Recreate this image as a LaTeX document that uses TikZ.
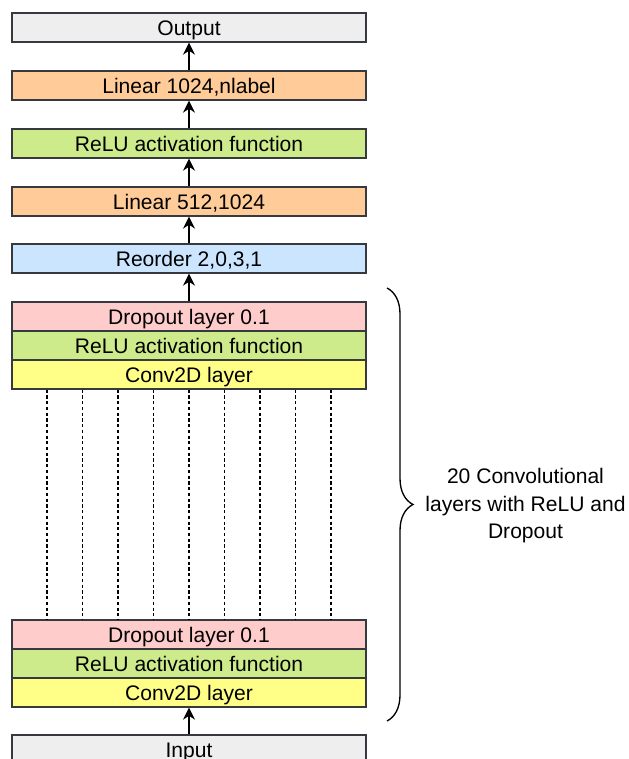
\documentclass[tikz,border=0pt]{standalone}
\usepackage{fontspec}
\setmainfont{Liberation Sans}
\usetikzlibrary{arrows.meta, calc, decorations.pathreplacing}
\definecolor{boxline}{HTML}{36393D}
\definecolor{greybox}{HTML}{EEEEEE}
\definecolor{orangebox}{HTML}{FFCC99}
\definecolor{greenbox}{HTML}{CDEB8B}
\definecolor{bluebox}{HTML}{CCE5FF}
\definecolor{pinkbox}{HTML}{FFCCCC}
\definecolor{yellowbox}{HTML}{FFFF88}

\begin{document}
\begin{tikzpicture}[x=0.75pt,y=-0.75pt,
  layer/.style={draw=boxline, line width=1pt, minimum width=265.5pt, minimum height=21.75pt, inner sep=0pt, text height=14.2pt, text depth=2.6pt, font=\fontsize{15.8}{18}\selectfont},
  flow/.style={-{Stealth[length=9pt,width=9pt]}, line width=1.2pt}]
\useasboundingbox (0,0) rectangle (628,759);
\clip (0,0) rectangle (628,759);
% head of the network
\node[layer, fill=greybox] (output) at (189,27.5) {Output};
\node[layer, fill=orangebox] (lintwo) at (189,85.5) {Linear 1024,nlabel};
\node[layer, fill=greenbox] (relu) at (189,143.5) {ReLU activation function};
\node[layer, fill=orangebox] (linone) at (189,201.5) {Linear 512,1024};
\node[layer, fill=bluebox] (reorder) at (189,258.5) {Reorder 2,0,3,1};
% last convolutional block
\node[layer, fill=pinkbox] (dropT) at (189,316.5) {Dropout layer 0.1};
\node[layer, fill=greenbox] (reluT) at (189,345.5) {ReLU activation function};
\node[layer, fill=yellowbox] (convT) at (189,374.5) {Conv2D layer};
% first convolutional block
\node[layer, fill=pinkbox] (dropB) at (189,634.5) {Dropout layer 0.1};
\node[layer, fill=greenbox] (reluB) at (189,663.5) {ReLU activation function};
\node[layer, fill=yellowbox] (convB) at (189,692.5) {Conv2D layer};
\node[layer, fill=greybox] (input) at (189,749.5) {Input};
% repeated blocks
\foreach \i in {1,...,9}
  \draw[line width=1.2pt, dash pattern=on 2.4pt off 1.9pt] ($(convT.south west)!\i/10!(convT.south east)$) -- ($(dropB.north west)!\i/10!(dropB.north east)$);
% arrows
\draw[flow] (input) -- (convB);
\draw[flow] (dropT) -- (reorder);
\draw[flow] (reorder) -- (linone);
\draw[flow] (linone) -- (relu);
\draw[flow] (relu) -- (lintwo);
\draw[flow] (lintwo) -- (output);
% brace
\coordinate (braceTop) at (387,288);
\coordinate (braceBot) at (387,721);
\draw[line width=1pt, decorate, decoration={brace, amplitude=19.5pt}] (braceTop) -- (braceBot);
\node[align=center, font=\fontsize{15.8}{20.6}\selectfont] (note) at (525.5,506) {20 Convolutional\\layers with ReLU and\\Dropout};
\end{tikzpicture}
\end{document}
